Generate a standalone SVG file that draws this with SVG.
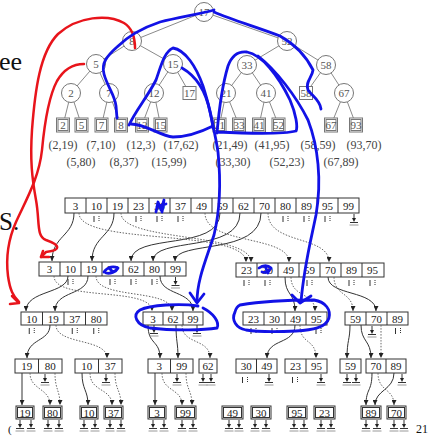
<svg xmlns="http://www.w3.org/2000/svg" width="429" height="442" viewBox="0 0 429 442">
<defs>
<style>
.tn circle{fill:#fff;stroke:#777;stroke-width:1}
.tn rect{fill:#fff;stroke:#777;stroke-width:1}
.tn text{font-family:"Liberation Serif",serif;font-size:11px;fill:#555;text-anchor:middle}
.edge line{stroke:#8a8a8a;stroke-width:1}
.lbl{font-family:"Liberation Serif",serif;font-size:12px;fill:#444;text-anchor:middle}
.arr rect{fill:#fff;stroke:#333;stroke-width:1}
.arr path{fill:none;stroke:#333;stroke-width:1}
.arr text{font-family:"Liberation Serif",serif;font-size:11px;fill:#222;text-anchor:middle}
.sol{fill:none;stroke:#333;stroke-width:1;marker-end:url(#ah)}
.dot{fill:none;stroke:#666;stroke-width:1;stroke-dasharray:1.5 1.5;marker-end:url(#ah)}
.g{stroke:#333;stroke-width:1;fill:none}
.red{fill:none;stroke:#e8141b;stroke-width:2.5;stroke-linecap:round;stroke-linejoin:round}
.blue{fill:none;stroke:#1212e6;stroke-width:2.8;stroke-linecap:round;stroke-linejoin:round}
.big{font-family:"Liberation Serif",serif;fill:#111}
</style>
<marker id="ah" viewBox="0 0 6 6" refX="6" refY="3" markerWidth="5" markerHeight="5" markerUnits="userSpaceOnUse" orient="auto"><path d="M0,0 L6,3 L0,6 z" fill="#222"/></marker>
<g id="gnd"><line x1="0" y1="0" x2="0" y2="5"/><path d="M-2,4 L0,8 L2,4 z" fill="#222" stroke="none"/><line x1="-4" y1="8.5" x2="4" y2="8.5"/><line x1="-4.5" y1="11" x2="4.5" y2="11" stroke="#999"/></g>
<g id="tk"><line x1="-2.5" y1="0" x2="-2.5" y2="6"/><line x1="2.5" y1="0" x2="2.5" y2="6" stroke-dasharray="1 1"/></g>
</defs>
<rect width="429" height="442" fill="#fff"/>

<text class="big" x="-1" y="70" font-size="26">ee</text>
<text class="big" x="-1" y="230" font-size="25">S.</text>
<text class="big" x="8" y="433" font-size="11">(</text>
<text class="big" x="416" y="433" font-size="12">21</text>

<!-- tree edges -->
<g class="edge" id="tree-edges">
<line x1="204" y1="12" x2="132" y2="41"/><line x1="204" y1="12" x2="287" y2="41"/>
<line x1="132" y1="41" x2="96" y2="64"/><line x1="132" y1="41" x2="173" y2="64"/>
<line x1="287" y1="41" x2="247" y2="65"/><line x1="287" y1="41" x2="326" y2="65"/>
<line x1="96" y1="64" x2="71" y2="93"/><line x1="96" y1="64" x2="109" y2="93"/>
<line x1="173" y1="64" x2="154" y2="93"/><line x1="173" y1="64" x2="189.5" y2="93"/>
<line x1="247" y1="65" x2="226" y2="93"/><line x1="247" y1="65" x2="266" y2="93"/>
<line x1="326" y1="65" x2="306" y2="93"/><line x1="326" y1="65" x2="344" y2="93"/>
<line x1="71" y1="93" x2="63" y2="125"/><line x1="71" y1="93" x2="81.5" y2="125"/>
<line x1="109" y1="93" x2="101.5" y2="125"/><line x1="109" y1="93" x2="121" y2="125"/>
<line x1="154" y1="93" x2="142" y2="125"/><line x1="154" y1="93" x2="160.5" y2="125"/>
<line x1="226" y1="93" x2="219.5" y2="125"/><line x1="226" y1="93" x2="239" y2="125"/>
<line x1="266" y1="93" x2="259" y2="125"/><line x1="266" y1="93" x2="278.5" y2="125"/>
<line x1="344" y1="93" x2="331" y2="125"/><line x1="344" y1="93" x2="356" y2="125"/>
</g>
<g class="tn" id="n17"><circle cx="204" cy="12" r="9.5"/><text x="204" y="16">17</text></g>
<g class="tn" id="n8"><circle cx="132" cy="41" r="9.5"/><text x="132" y="45">8</text></g>
<g class="tn" id="n52"><circle cx="287" cy="41" r="9.5"/><text x="287" y="45">52</text></g>
<g class="tn" id="n5"><circle cx="96" cy="64" r="9.5"/><text x="96" y="68">5</text></g>
<g class="tn" id="n15"><circle cx="173" cy="64" r="9.5"/><text x="173" y="68">15</text></g>
<g class="tn" id="n33"><circle cx="247" cy="65" r="9.5"/><text x="247" y="69">33</text></g>
<g class="tn" id="n58"><circle cx="326" cy="65" r="9.5"/><text x="326" y="69">58</text></g>
<g class="tn" id="n2"><circle cx="71" cy="93" r="9.5"/><text x="71" y="97">2</text></g>
<g class="tn" id="n7"><circle cx="109" cy="93" r="9.5"/><text x="109" y="97">7</text></g>
<g class="tn" id="n12"><circle cx="154" cy="93" r="9.5"/><text x="154" y="97">12</text></g>
<g class="tn" id="s17"><rect x="183" y="86.5" width="13" height="13"/><text x="189.5" y="97">17</text></g>
<g class="tn" id="n21"><circle cx="226" cy="93" r="9.5"/><text x="226" y="97">21</text></g>
<g class="tn" id="n41"><circle cx="266" cy="93" r="9.5"/><text x="266" y="97">41</text></g>
<g class="tn" id="s58"><rect x="299.5" y="86.5" width="13" height="13"/><text x="306" y="97">58</text></g>
<g class="tn" id="n67"><circle cx="344" cy="93" r="9.5"/><text x="344" y="97">67</text></g>
<g class="tn" id="tree-leaves">
<rect x="56.5" y="118" width="13" height="14"/><rect x="58" y="119.5" width="10" height="11"/><text x="63" y="129">2</text>
<rect x="75" y="118" width="13" height="14"/><rect x="76.5" y="119.5" width="10" height="11"/><text x="81.5" y="129">5</text>
<rect x="95" y="118" width="13" height="14"/><rect x="96.5" y="119.5" width="10" height="11"/><text x="101.5" y="129">7</text>
<rect x="114.5" y="118" width="13" height="14"/><rect x="116" y="119.5" width="10" height="11"/><text x="121" y="129">8</text>
<rect x="135.5" y="118" width="13" height="14"/><rect x="137" y="119.5" width="10" height="11"/><text x="142" y="129">12</text>
<rect x="154" y="118" width="13" height="14"/><rect x="155.5" y="119.5" width="10" height="11"/><text x="160.5" y="129">15</text>
<rect x="213" y="118" width="13" height="14"/><rect x="214.5" y="119.5" width="10" height="11"/><text x="219.5" y="129">21</text>
<rect x="232.5" y="118" width="13" height="14"/><rect x="234" y="119.5" width="10" height="11"/><text x="239" y="129">33</text>
<rect x="252.5" y="118" width="13" height="14"/><rect x="254" y="119.5" width="10" height="11"/><text x="259" y="129">41</text>
<rect x="272" y="118" width="13" height="14"/><rect x="273.5" y="119.5" width="10" height="11"/><text x="278.5" y="129">52</text>
<rect x="324.5" y="118" width="13" height="14"/><rect x="326" y="119.5" width="10" height="11"/><text x="331" y="129">67</text>
<rect x="349.5" y="118" width="13" height="14"/><rect x="351" y="119.5" width="10" height="11"/><text x="356" y="129">93</text>
</g>
<g id="labels">
<text class="lbl" x="63" y="149">(2,19)</text><text class="lbl" x="101" y="149">(7,10)</text><text class="lbl" x="141" y="149">(12,3)</text><text class="lbl" x="181" y="149">(17,62)</text><text class="lbl" x="230" y="149">(21,49)</text><text class="lbl" x="272" y="149">(41,95)</text><text class="lbl" x="318" y="149">(58,59)</text><text class="lbl" x="364" y="149">(93,70)</text>
<text class="lbl" x="81" y="166">(5,80)</text><text class="lbl" x="124" y="166">(8,37)</text><text class="lbl" x="169" y="166">(15,99)</text><text class="lbl" x="233" y="166">(33,30)</text><text class="lbl" x="287" y="166">(52,23)</text><text class="lbl" x="341" y="166">(67,89)</text>
</g>

<!-- arrays -->
<g class="arr" id="L0"><rect x="65" y="198" width="294" height="15"/><path d="M86,198v15M107,198v15M128,198v15M149,198v15M170,198v15M191,198v15M212,198v15M233,198v15M254,198v15M275,198v15M296,198v15M317,198v15M338,198v15"/>
<text x="75.5" y="209.5">3</text><text x="96.5" y="209.5">10</text><text x="117.5" y="209.5">19</text><text x="138.5" y="209.5">23</text><text x="159.5" y="209.5">30</text><text x="180.5" y="209.5">37</text><text x="201.5" y="209.5">49</text><text x="222.5" y="209.5">59</text><text x="243.5" y="209.5">62</text><text x="264.5" y="209.5">70</text><text x="285.5" y="209.5">80</text><text x="306.5" y="209.5">89</text><text x="327.5" y="209.5">95</text><text x="348.5" y="209.5">99</text></g>
<g class="arr" id="L1L"><rect x="39" y="262" width="147" height="14"/><path d="M60,262v14M81,262v14M102,262v14M123,262v14M144,262v14M165,262v14"/>
<text x="49.5" y="273">3</text><text x="70.5" y="273">10</text><text x="91.5" y="273">19</text><text x="112.5" y="273">37</text><text x="133.5" y="273">62</text><text x="154.5" y="273">80</text><text x="175.5" y="273">99</text></g>
<g class="arr" id="L1R"><rect x="236" y="263" width="148" height="14"/><path d="M257,263v14M278,263v14M299,263v14M320,263v14M341,263v14M362,263v14"/>
<text x="246.5" y="274">23</text><text x="267.5" y="274">30</text><text x="288.5" y="274">49</text><text x="309.5" y="274">59</text><text x="330.5" y="274">70</text><text x="351.5" y="274">89</text><text x="372.5" y="274">95</text></g>
<g class="arr" id="L2a"><rect x="21" y="312" width="86" height="13"/><path d="M42.5,312v13M64,312v13M85.5,312v13"/>
<text x="31.75" y="322.5">10</text><text x="53.25" y="322.5">19</text><text x="74.75" y="322.5">37</text><text x="96.25" y="322.5">80</text></g>
<g class="arr" id="L2b"><rect x="143" y="312" width="60" height="13"/><path d="M163,312v13M183,312v13"/>
<text x="153" y="322.5">3</text><text x="173" y="322.5">62</text><text x="193" y="322.5">99</text></g>
<g class="arr" id="L2c"><rect x="243" y="312" width="84" height="13"/><path d="M264,312v13M285,312v13M306,312v13"/>
<text x="253.5" y="322.5">23</text><text x="274.5" y="322.5">30</text><text x="295.5" y="322.5">49</text><text x="316.5" y="322.5">95</text></g>
<g class="arr" id="L2d"><rect x="345" y="312" width="63" height="13"/><path d="M366,312v13M387,312v13"/>
<text x="355.5" y="322.5">59</text><text x="376.5" y="322.5">70</text><text x="397.5" y="322.5">89</text></g>
<g class="arr" id="L3">
<rect x="15" y="359" width="47" height="14"/><path d="M38.5,359v14"/><text x="26.75" y="370">19</text><text x="50.25" y="370">80</text>
<rect x="75" y="359" width="47" height="14"/><path d="M98.5,359v14"/><text x="86.75" y="370">10</text><text x="110.25" y="370">37</text>
<rect x="148" y="359" width="45" height="14"/><path d="M170.5,359v14"/><text x="159.25" y="370">3</text><text x="181.75" y="370">99</text>
<rect x="199" y="359" width="18" height="14"/><text x="208" y="370">62</text>
<rect x="236" y="359" width="41" height="14"/><path d="M256.5,359v14"/><text x="246.25" y="370">30</text><text x="266.75" y="370">49</text>
<rect x="285" y="359" width="42" height="14"/><path d="M306,359v14"/><text x="295.5" y="370">23</text><text x="316.5" y="370">95</text>
<rect x="340" y="359" width="21" height="14"/><text x="350.5" y="370">59</text>
<rect x="366" y="359" width="40" height="14"/><path d="M386,359v14"/><text x="376" y="370">70</text><text x="396" y="370">89</text>
</g>
<g class="arr" id="L4">
<rect x="16" y="406" width="18" height="13"/><rect x="17.5" y="407.5" width="15" height="10"/><text x="25" y="416.5">19</text>
<rect x="43" y="406" width="19" height="13"/><rect x="44.5" y="407.5" width="16" height="10"/><text x="52.5" y="416.5">80</text>
<rect x="80" y="406" width="18" height="13"/><rect x="81.5" y="407.5" width="15" height="10"/><text x="89" y="416.5">10</text>
<rect x="104" y="406" width="19" height="13"/><rect x="105.5" y="407.5" width="16" height="10"/><text x="113.5" y="416.5">37</text>
<rect x="148" y="406" width="18" height="13"/><rect x="149.5" y="407.5" width="15" height="10"/><text x="157" y="416.5">3</text>
<rect x="175" y="406" width="21" height="13"/><rect x="176.5" y="407.5" width="18" height="10"/><text x="185.5" y="416.5">99</text>
<rect x="222" y="406" width="21" height="13"/><rect x="223.5" y="407.5" width="18" height="10"/><text x="232.5" y="416.5">49</text>
<rect x="251" y="406" width="20" height="13"/><rect x="252.5" y="407.5" width="17" height="10"/><text x="261" y="416.5">30</text>
<rect x="287" y="406" width="20" height="13"/><rect x="288.5" y="407.5" width="17" height="10"/><text x="297" y="416.5">95</text>
<rect x="314" y="406" width="21" height="13"/><rect x="315.5" y="407.5" width="18" height="10"/><text x="324.5" y="416.5">23</text>
<rect x="361" y="406" width="20" height="13"/><rect x="362.5" y="407.5" width="17" height="10"/><text x="371" y="416.5">89</text>
<rect x="387" y="406" width="19" height="13"/><rect x="388.5" y="407.5" width="16" height="10"/><text x="396.5" y="416.5">70</text>
</g>

<!-- connectors -->
<g id="connectors">
<path class="sol" d="M74,213 C74,236 52,236 52,261"/>
<path class="sol" d="M114,213 C114,236 92,236 92,261"/>
<path class="sol" d="M220,213 C220,252 131,232 131,261"/>
<path class="sol" d="M240,213 C240,254 153,236 153,261"/>
<path class="sol" d="M261,213 C261,256 175,240 175,261"/>
<path class="dot" d="M79,213 C79,246 246,228 246,262"/>
<path class="dot" d="M121,213 C121,242 251,232 251,262"/>
<path class="dot" d="M205,213 C205,245 289,235 289,262"/>
<path class="dot" d="M268,213 C268,245 329,235 329,262"/>
<g class="g">
<use href="#gnd" x="354" y="214"/>
<use href="#tk" x="96.5" y="216"/><use href="#tk" x="138.5" y="216"/><use href="#tk" x="159.5" y="216"/><use href="#tk" x="180.5" y="216"/><use href="#tk" x="285.5" y="216"/><use href="#tk" x="306.5" y="216"/><use href="#tk" x="327.5" y="216"/>
</g>

<path class="sol" d="M68,276 C68,294 26,290 26,311"/>
<path class="sol" d="M88,276 C88,296 55,290 55,311"/>
<path class="dot" d="M54,276 C54,302 152,286 152,311"/>
<path class="dot" d="M96,276 C96,300 172,288 172,311"/>
<path class="sol" d="M160,276 C160,296 193,290 193,311"/>
<path class="sol" d="M285,277 C285,296 295,292 295,311"/>
<path class="dot" d="M291,277 C291,298 315,292 315,311"/>
<path class="dot" d="M334,277 C334,296 353,292 353,311"/>
<path class="sol" d="M328,277 C328,296 376,290 376,311"/>
<g class="g">
<use href="#gnd" x="175.5" y="277"/>
<use href="#tk" x="70.5" y="279"/><use href="#tk" x="112.5" y="279"/><use href="#tk" x="133.5" y="279"/><use href="#tk" x="154.5" y="279"/>
<use href="#tk" x="246.5" y="280"/><use href="#tk" x="267.5" y="280"/><use href="#tk" x="309.5" y="280"/><use href="#tk" x="351.5" y="280"/><use href="#tk" x="372.5" y="280"/>
</g>

<path class="sol" d="M50,325 C50,342 27,338 27,358"/>
<path class="dot" d="M56,325 C56,345 107,338 107,358"/>
<path class="sol" d="M148,325 C148,345 160,340 160,358"/>
<path class="sol" d="M176,325 C176,342 178,342 178,358"/>
<path class="dot" d="M182,325 C182,345 210,338 210,358"/>
<path class="sol" d="M295,325 C295,345 267,338 267,358"/>
<path class="dot" d="M300,325 C300,345 316,338 316,358"/>
<path class="sol" d="M350,325 C350,340 347,340 347,358"/>
<path class="sol" d="M361,325 C361,342 371,340 371,358"/>
<path class="dot" d="M381,325 C381,342 381,342 381,358"/>
<g class="g">
<use href="#gnd" x="154" y="325"/><use href="#gnd" x="197" y="325"/><use href="#gnd" x="372" y="326"/>
<use href="#tk" x="31.75" y="328"/><use href="#tk" x="74.75" y="328"/><use href="#tk" x="96.25" y="328"/>
<use href="#tk" x="253.5" y="328"/><use href="#tk" x="274.5" y="328"/><use href="#tk" x="318.5" y="328"/><use href="#tk" x="398" y="328"/>
</g>

<path class="sol" d="M22,373 L22,405"/>
<path class="dot" d="M30,373 C30,390 50,388 50,405"/>
<path class="dot" d="M55,373 C55,390 60,390 60,405"/>
<path class="sol" d="M82,373 C82,390 88,390 88,405"/>
<path class="dot" d="M90,373 C90,392 112,388 112,405"/>
<path class="dot" d="M115,373 C115,390 121,390 121,405"/>
<path class="sol" d="M155,373 L155,405"/>
<path class="dot" d="M162,373 C162,392 182,388 182,405"/>
<path class="dot" d="M186,373 C186,390 192,390 192,405"/>
<path class="sol" d="M372,373 C372,392 366,388 366,405"/>
<path class="dot" d="M378,373 C378,392 394,388 394,405"/>
<path class="sol" d="M394,373 C394,390 375,390 375,405"/>
<g class="g">
<use href="#gnd" x="45" y="374"/><use href="#gnd" x="106" y="374"/><use href="#gnd" x="177" y="374"/>
<use href="#gnd" x="203" y="374"/><use href="#gnd" x="211" y="374"/>
<use href="#tk" x="245" y="377"/><use href="#gnd" x="269" y="374"/>
<use href="#tk" x="295" y="377"/><use href="#gnd" x="321" y="374"/>
<use href="#gnd" x="347" y="374"/><use href="#gnd" x="356" y="374"/><use href="#gnd" x="402" y="374"/>
</g>
<g class="g">
<use href="#gnd" x="20" y="420"/><use href="#gnd" x="31" y="420"/><use href="#gnd" x="48" y="420"/><use href="#gnd" x="59" y="420"/>
<use href="#gnd" x="84" y="420"/><use href="#gnd" x="95" y="420"/><use href="#gnd" x="110" y="420"/><use href="#gnd" x="121" y="420"/>
<use href="#gnd" x="153" y="420"/><use href="#gnd" x="164" y="420"/><use href="#gnd" x="182" y="420"/><use href="#gnd" x="193" y="420"/>
<use href="#gnd" x="229" y="420"/><use href="#gnd" x="239" y="420"/><use href="#gnd" x="255" y="420"/><use href="#gnd" x="266" y="420"/>
<use href="#gnd" x="294" y="420"/><use href="#gnd" x="304" y="420"/><use href="#gnd" x="321" y="420"/><use href="#gnd" x="331" y="420"/>
<use href="#gnd" x="366" y="420"/><use href="#gnd" x="377" y="420"/><use href="#gnd" x="394" y="420"/><use href="#gnd" x="404" y="420"/>
</g>
</g>

<!-- annotations -->
<g id="red-ink">
<path class="red" d="M135,48 C135,38 132,28 124,23 C108,14 78,16 58,34 C40,52 35,90 32,130 C30,160 32,178 36,200 C40,222 36,236 46,240 C60,245 62,250 46,252 L41,257"/>
<path class="red" d="M43,251 L41,257 L49,257"/>
<path class="red" d="M84,64 C74,64 64,69 57,81 C49,96 45,118 42,150 C39,178 26,200 16,222 C8,240 6,260 8,276 C10,290 13,296 19,302"/>
<path class="red" d="M12,296 L19,303 L10,304"/>
</g>
<g id="blue-ink">
<path class="blue" d="M214,10 C200,14 180,17 160,22 C145,27 128,36 117,47 C107,56 101,63 104,74 C107,86 115,95 116,106 L117,118"/>
<path class="blue" d="M129,125 C136,110 148,96 156,80 C161,66 164,52 173,48 C185,50 196,66 203,86 C208,102 212,118 213,128"/>
<path class="blue" d="M131,124 C146,124 160,136 173,137 C186,137 201,132 213,126"/>
<path class="blue" d="M182,68 C196,76 206,92 210,112 C213,126 216,138 218,152 C221,182 220,210 214,235 C206,260 197,280 197,302"/>
<path class="blue" d="M190,293 L197,303 L204,294"/>
<path class="blue" d="M214,12 C232,20 260,28 280,36 C296,45 306,56 313,70 C312,78 305,82 308,90 C312,96 320,100 321,109"/>
<path class="blue" d="M217,133 C219,110 222,86 228,66 C232,55 238,51 247,52 C262,55 278,75 290,100 C296,114 298,127 296,131 C284,134 258,134 217,132"/>
<path class="blue" d="M258,56 C276,70 296,96 308,120 C318,146 322,180 316,215 C311,240 304,266 301,302"/>
<path class="blue" d="M292,295 L300,303 L311,296"/>
<path class="blue" d="M198,306 C180,303 150,305 140,310 C132,315 136,325 150,328 C175,331 205,330 217,328 C220,322 213,313 203,308"/>
<path class="blue" d="M240,305 C258,302 285,300 314,300 C326,302 331,310 329,318 C326,328 312,330 296,331 C278,332 258,332 246,330 C236,328 231,320 235,312 C236,308 238,306 240,305"/>
<path class="blue" stroke-width="2.2" d="M156,212 L158,202 L161,210 L164,200 L162,212 M159,206 L166,204"/>
<path class="blue" stroke-width="2.2" d="M104,272 C108,266 114,266 118,268 C116,272 110,274 106,273 M109,268 L113,272"/>
<path class="blue" stroke-width="2.2" d="M259,268 C263,265 268,265 271,268 C269,272 265,273 262,272 M265,266 L268,273"/>
</g>
</svg>
